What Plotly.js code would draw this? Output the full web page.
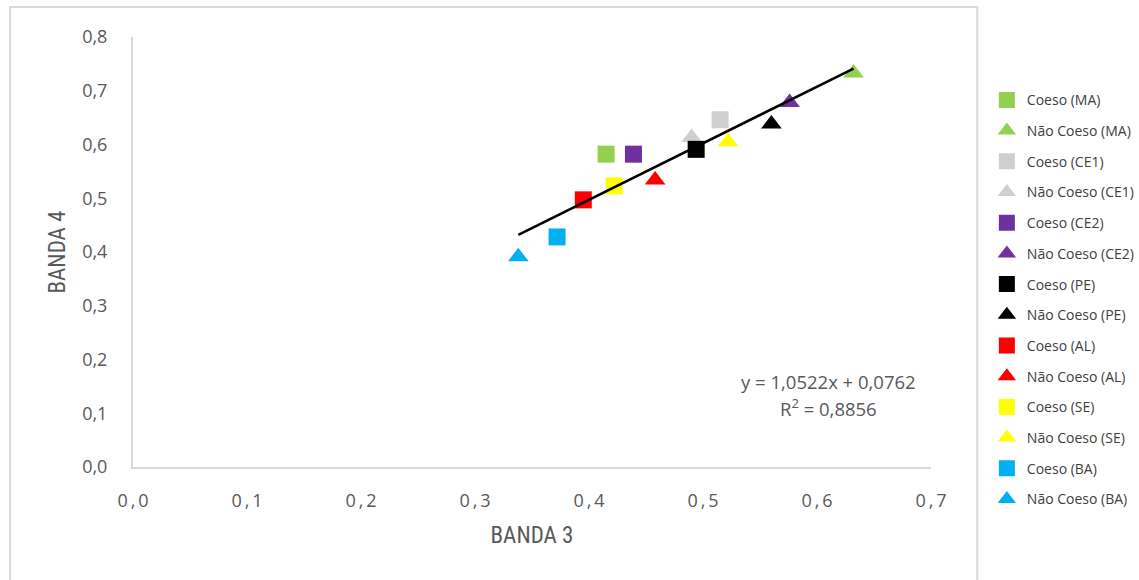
<!DOCTYPE html>
<html>
<head>
<meta charset="utf-8">
<script src="https://cdn.plot.ly/plotly-3.0.1.min.js"></script>
<style>
html,body{margin:0;padding:0;background:#fff;}
#chart{width:1139px;height:580px;}
</style>
</head>
<body>
<div id="chart"></div>
<script>
// ---- data ----
const seriesNames = [
  'Coeso (MA)', 'Não Coeso (MA)',
  'Coeso (CE1)', 'Não Coeso (CE1)',
  'Coeso (CE2)', 'Não Coeso (CE2)',
  'Coeso (PE)', 'Não Coeso (PE)',
  'Coeso (AL)', 'Não Coeso (AL)',
  'Coeso (SE)', 'Não Coeso (SE)',
  'Coeso (BA)', 'Não Coeso (BA)'
];
const banda3 = [0.415, 0.632, 0.515, 0.490, 0.439, 0.576, 0.494, 0.560, 0.395, 0.458, 0.422, 0.522, 0.372, 0.338];
const banda4 = [0.582, 0.733, 0.646, 0.613, 0.582, 0.678, 0.591, 0.638, 0.497, 0.534, 0.523, 0.605, 0.428, 0.391];
const seriesColors = ['#92D050', '#92D050', '#D0CECE', '#D0CECE', '#7030A0', '#7030A0', '#000000', '#000000',
                      '#FF0000', '#FF0000', '#FFFF00', '#FFFF00', '#00B0F0', '#00B0F0'];
const seriesSymbols = ['square', 'triangle-up', 'square', 'triangle-up', 'square', 'triangle-up', 'square', 'triangle-up',
                       'square', 'triangle-up', 'square', 'triangle-up', 'square', 'triangle-up'];
const trendSlope = 1.0522;
const trendIntercept = 0.0762;
const rSquared = 0.8856;
const xTickVals = [0, 0.1, 0.2, 0.3, 0.4, 0.5, 0.6, 0.7];
const xTickText = ['0\u2009,\u20090', '0\u2009,\u20091', '0\u2009,\u20092', '0\u2009,\u20093', '0\u2009,\u20094', '0\u2009,\u20095', '0\u2009,\u20096', '0\u2009,\u20097'];
const yTickVals = [0, 0.1, 0.2, 0.3, 0.4, 0.5, 0.6, 0.7, 0.8];
const yTickText = ['0,0', '0,1', '0,2', '0,3', '0,4', '0,5', '0,6', '0,7', '0,8'];

const traces = [];
const xMin = Math.min(...banda3), xMax = Math.max(...banda3);
for (let i = 0; i < seriesNames.length; i++) {
  traces.push({
    type: 'scatter', mode: 'markers',
    x: [banda3[i]], y: [banda4[i]],
    name: seriesNames[i],
    legendgroup: 'g' + i,
    marker: {color: seriesColors[i], symbol: seriesSymbols[i], size: seriesSymbols[i] === 'square' ? 17 : 18, line: {width: 0}},
    hoverinfo: 'x+y+name'
  });
}
// linear trendline from its equation, drawn over the markers as in the reference
traces.push({
  type: 'scatter', mode: 'lines',
  x: [xMin, xMax],
  y: [trendSlope * xMin + trendIntercept, trendSlope * xMax + trendIntercept],
  line: {color: '#000000', width: 2.5},
  showlegend: false, hoverinfo: 'skip'
});

const fmt = v => v.toFixed(4).replace('.', ',');
const tickFont = {family: 'Open Sans, sans-serif', size: 18, color: '#595959'};
const titleFont = {family: 'Liberation Sans Narrow, Roboto Condensed, Open Sans, sans-serif', size: 23, color: '#595959'};
const annFont = {family: 'Open Sans, sans-serif', size: 18.5, color: '#595959'};

const layout = {
  width: 1139, height: 580,
  margin: {l: 133, r: 208, t: 37, b: 113, autoexpand: false},
  paper_bgcolor: '#ffffff', plot_bgcolor: '#ffffff',
  showlegend: true,
  legend: {
    x: 1.070, xanchor: 'left', y: 0.89, yanchor: 'top',
    font: {family: 'Open Sans, sans-serif', size: 14, color: '#404040'},
    tracegroupgap: 9.5, bgcolor: 'rgba(0,0,0,0)'
  },
  xaxis: {
    range: [0, 0.7], tickvals: xTickVals, ticktext: xTickText,
    showgrid: false, zeroline: false, showline: true, linecolor: '#D9D9D9', linewidth: 2,
    ticks: '', ticklabelstandoff: 16, tickfont: tickFont,
    title: {text: 'BANDA 3', font: titleFont, standoff: 16}
  },
  yaxis: {
    range: [0, 0.8], tickvals: yTickVals, ticktext: yTickText,
    showgrid: false, zeroline: false, showline: true, linecolor: '#D9D9D9', linewidth: 2,
    ticks: '', ticklabelstandoff: 20, tickfont: tickFont,
    title: {text: 'BANDA 4', font: titleFont, standoff: 10}
  },
  annotations: [
    {xref: 'paper', yref: 'paper', x: 0.872, y: 0.200, xanchor: 'center', yanchor: 'middle', showarrow: false,
     text: 'y = ' + fmt(trendSlope) + 'x + ' + fmt(trendIntercept), font: annFont},
    {xref: 'paper', yref: 'paper', x: 0.872, y: 0.139, xanchor: 'center', yanchor: 'middle', showarrow: false,
     text: 'R<sup>2</sup> = ' + fmt(rSquared), font: annFont}
  ],
  shapes: [
    {type: 'rect', xref: 'paper', yref: 'paper', x0: -0.154, x1: 1.058, y0: -0.29, y1: 1.07,
     line: {color: '#D9D9D9', width: 2}, fillcolor: 'rgba(0,0,0,0)', layer: 'below'}
  ]
};

Plotly.newPlot('chart', traces, layout, {displayModeBar: false, staticPlot: true});
</script>
</body>
</html>
